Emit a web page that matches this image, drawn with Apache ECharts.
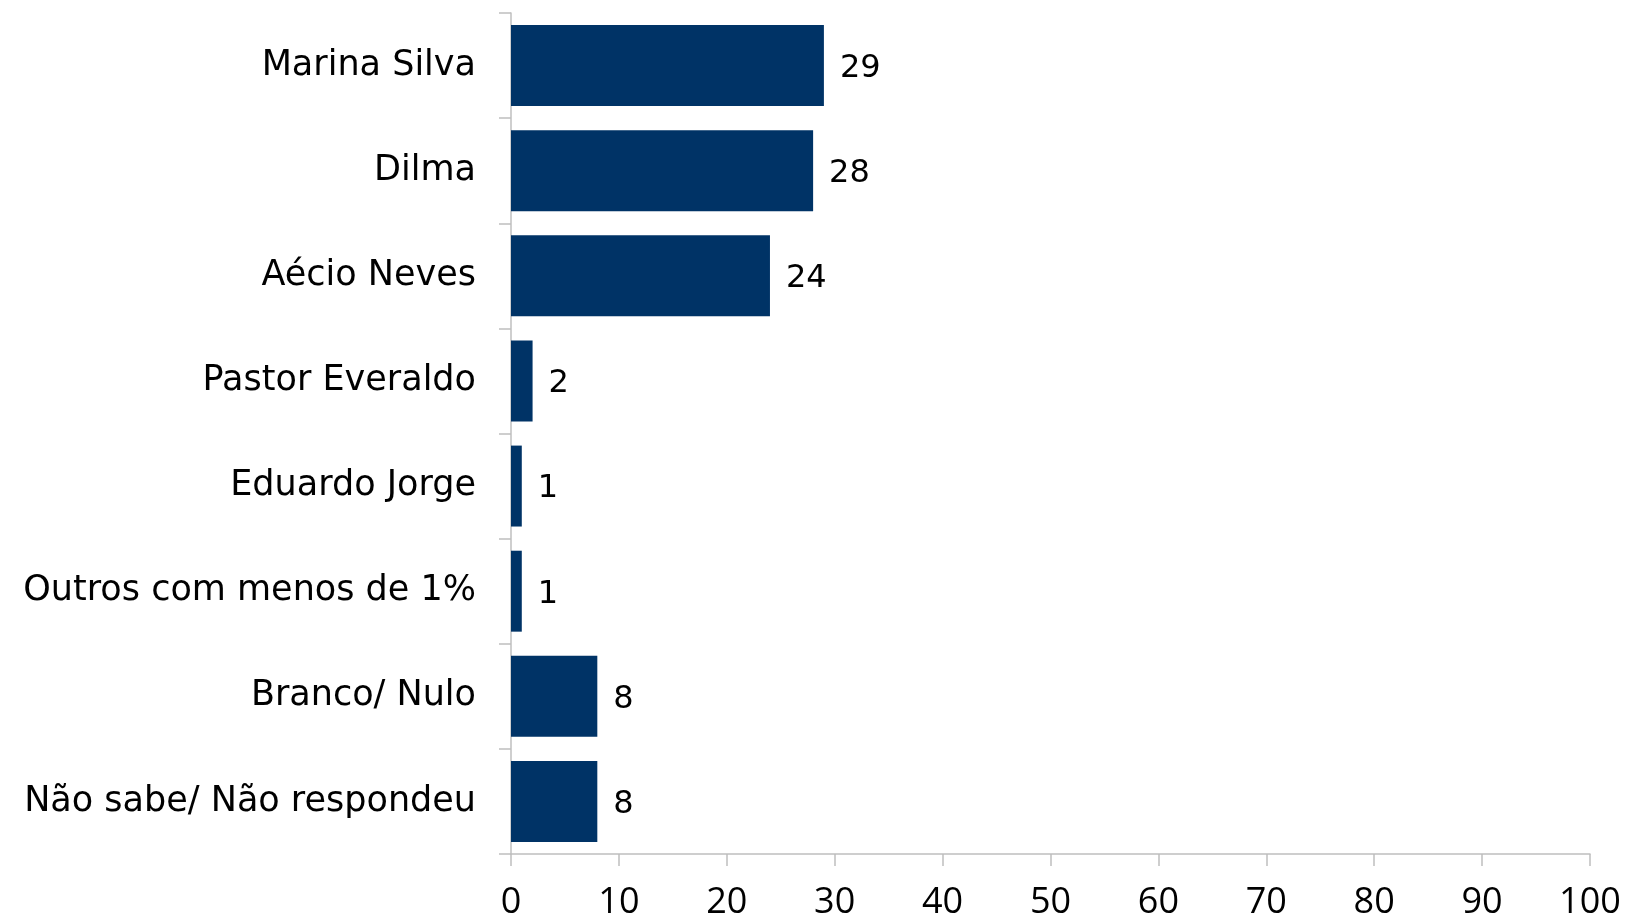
<!DOCTYPE html>
<html><head><meta charset="utf-8">
<script src="https://cdn.jsdelivr.net/npm/echarts@6/dist/echarts.min.js"></script>
<style>html,body{margin:0;padding:0;background:#fff}#c{width:1627px;height:917px}</style>
</head><body><div id="c"></div>
<script>
const categories = ["Marina Silva","Dilma","Aécio Neves","Pastor Everaldo","Eduardo Jorge","Outros com menos de 1%","Branco/ Nulo","Não sabe/ Não respondeu"];
const values = [29,28,24,2,1,1,8,8];
const xTicks = {min:0,max:100,interval:10};
const chart = echarts.init(document.getElementById('c'));
const font = 'DejaVu Sans, Verdana, sans-serif';
chart.setOption({
  animation:false,
  grid:{left:511,right:37,top:13,bottom:63,containLabel:false,outerBoundsMode:'none'},
  xAxis:{type:'value',min:xTicks.min,max:xTicks.max,interval:xTicks.interval,
    splitLine:{show:false},
    axisLine:{show:true,lineStyle:{color:'#bfbfbf',width:1.5}},
    axisTick:{show:true,length:12,lineStyle:{color:'#bfbfbf',width:1.5}},
    axisLabel:{color:'#000',fontSize:36,fontFamily:'Open Sans, sans-serif',margin:31}},
  yAxis:{type:'category',data:categories,inverse:true,
    axisLine:{show:true,lineStyle:{color:'#bfbfbf',width:1.5}},
    axisTick:{show:true,length:12,lineStyle:{color:'#bfbfbf',width:1.5}},
    axisLabel:{color:'#000',fontSize:35,fontFamily:font,margin:35,padding:[12,0,0,0]}},
  series:[{type:'bar',data:values,barWidth:'77%',
    itemStyle:{color:'#003366'},
    label:{show:true,position:'right',distance:16,offset:[0,3],color:'#000',fontSize:32,fontFamily:font}}]
});
</script></body></html>
